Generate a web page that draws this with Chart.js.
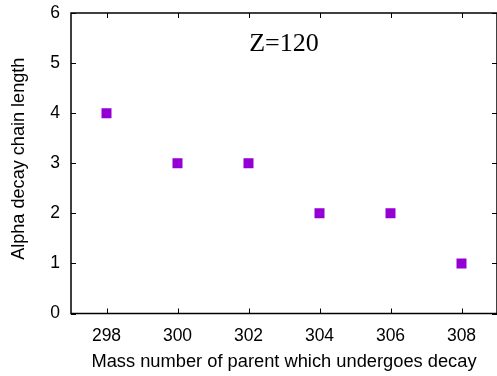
<!DOCTYPE html>
<html>
<head>
<meta charset="utf-8">
<script src="https://cdn.jsdelivr.net/npm/chart.js@4/dist/chart.umd.min.js"></script>
<style>
html,body{margin:0;padding:0;background:#fff;}
#wrap{width:497px;height:376px;}
</style>
</head>
<body>
<div id="wrap"><canvas id="c" width="497" height="376"></canvas></div>
<script>
const massNumbers = [298, 300, 302, 304, 306, 308];
const chainLengths = [4, 3, 3, 2, 2, 1];
const xTicks = [298, 300, 302, 304, 306, 308];
const yTicks = [0, 1, 2, 3, 4, 5, 6];
const xTitle = 'Mass number of parent which undergoes decay';
const yTitle = 'Alpha decay chain length';
const labelText = 'Z=120';
const labelPos = {x: 303.0, y: 5.38};

const points = massNumbers.map((m, i) => ({x: m, y: chainLengths[i]}));

const frame = {
  id: 'frame',
  afterDatasetsDraw(chart) {
    const {ctx, chartArea: a, scales: {x, y}} = chart;
    ctx.save();
    ctx.strokeStyle = '#000';
    ctx.lineWidth = 1;
    ctx.beginPath();
    xTicks.forEach(v => {
      const px = Math.round(x.getPixelForValue(v)) + 0.5;
      ctx.moveTo(px, a.bottom); ctx.lineTo(px, a.bottom - 5);
      ctx.moveTo(px, a.top); ctx.lineTo(px, a.top + 5);
    });
    yTicks.forEach(v => {
      const py = Math.round(y.getPixelForValue(v)) + 0.5;
      ctx.moveTo(a.left, py); ctx.lineTo(a.left + 5, py);
      ctx.moveTo(a.right, py); ctx.lineTo(a.right - 5, py);
    });
    ctx.stroke();
    ctx.lineWidth = 1.5;
    ctx.strokeRect(a.left, a.top, a.right - a.left, a.bottom - a.top);
    ctx.fillStyle = '#000';
    ctx.font = '26px "Liberation Serif"';
    ctx.textAlign = 'center';
    ctx.textBaseline = 'middle';
    ctx.fillText(labelText, x.getPixelForValue(labelPos.x), y.getPixelForValue(labelPos.y));
    // y axis title
    ctx.font = '18.1px "Liberation Sans"';
    ctx.translate(18.5, (a.top + a.bottom) / 2 - 4.5);
    ctx.rotate(-Math.PI / 2);
    ctx.fillText(yTitle, 0, 0);
    ctx.restore();
  }
};

new Chart(document.getElementById('c'), {
  type: 'scatter',
  data: {
    datasets: [{
      data: points,
      pointStyle: 'rect',
      pointRadius: 7.07,
      pointHoverRadius: 7.07,
      borderWidth: 0,
      backgroundColor: '#9400d3',
      borderColor: '#9400d3'
    }]
  },
  plugins: [frame],
  options: {
    responsive: false,
    animation: false,
    events: [],
    layout: {autoPadding: false, padding: {top: 13, right: -1, left: 0, bottom: 0}},
    plugins: {legend: {display: false}, tooltip: {enabled: false}},
    scales: {
      x: {
        type: 'linear', min: 297, max: 309,
        afterBuildTicks(s) { s.ticks = xTicks.map(v => ({value: v})); },
        afterFit(s) { s.height = 62.5; s.paddingLeft = 0; s.paddingRight = 0; },
        grid: {display: false, drawTicks: false},
        border: {display: false},
        ticks: {color: '#000', font: {family: 'Liberation Sans', size: 17.5}, padding: 12, maxRotation: 0},
        title: {display: true, text: xTitle, color: '#000', font: {family: 'Liberation Sans', size: 18.3}, padding: {top: 2, bottom: 3}}
      },
      y: {
        type: 'linear', min: 0, max: 6,
        afterBuildTicks(s) { s.ticks = yTicks.map(v => ({value: v})); },
        afterFit(s) { s.width = 71; s.paddingTop = 0; s.paddingBottom = 0; },
        grid: {display: false, drawTicks: false},
        border: {display: false},
        ticks: {color: '#000', font: {family: 'Liberation Sans', size: 17.5}, padding: 11},
        title: {display: false}
      }
    }
  }
});
</script>
</body>
</html>
